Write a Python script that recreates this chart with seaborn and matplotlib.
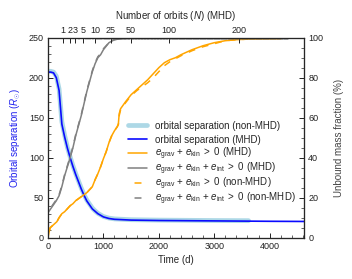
#!/usr/bin/env python3
import numpy as np
import pandas as pd
import seaborn as sns
import matplotlib.pyplot as plt
from matplotlib.ticker import MultipleLocator, FixedLocator

# orbital separation (R_sun), MHD run
t_sep_mhd = [0, 50, 100, 150, 200, 250, 300, 350, 400, 450, 500, 550, 600, 650, 700,
             750, 800, 850, 900, 1000, 1100, 1200, 1500, 2000, 3000, 4000, 4620]
sep_mhd = [207, 207, 206, 200, 184, 142, 126, 112, 100, 89, 79, 70, 61, 53, 46,
           41, 36, 33, 30, 26, 24, 23, 22, 21.5, 21, 20.5, 20.3]

# orbital separation, non-MHD run
t_sep_hd = [0, 50, 100, 150, 200, 250, 300, 350, 400, 450, 500, 550, 600, 650, 700,
            750, 800, 850, 900, 1000, 1100, 1200, 1500, 2000, 3000, 3620]
sep_hd = [208, 208, 207, 202, 186, 145, 128, 113, 101, 90, 80, 71, 62, 54, 47,
          42, 37, 33.5, 30.5, 26.5, 24.5, 23.5, 22.5, 22, 21.5, 21.3]

# unbound mass fraction (%), e_grav + e_kin > 0
t_kin_mhd = [0, 20, 40, 80, 120, 160, 200, 250, 300, 350, 400, 450, 500, 550, 600, 650, 700,
             750, 800, 850, 900, 950, 1000, 1050, 1100, 1150, 1200, 1250, 1270, 1285, 1310,
             1400, 1500, 1600, 1700, 1800, 1900, 2000, 2100, 2200, 2300, 2400, 2600, 2800,
             3000, 3200, 3400, 3600, 4200]
kin_mhd = [0, 3, 5, 6, 7, 8, 10, 12, 13, 14.5, 16, 17, 18.5, 19.5, 20.5, 21.5, 22.5,
           24, 25.5, 29, 32, 35.5, 39.5, 43, 47.5, 51, 53.5, 55.5, 57, 62, 64.5,
           68, 71.5, 74, 76.5, 79, 82, 85, 87.5, 89, 90, 91.5, 94, 96,
           97.5, 98.5, 99, 99.3, 99.5]

# unbound mass fraction (%), e_grav + e_kin > 0, non-MHD
t_kin_hd = [0, 20, 40, 80, 120, 160, 200, 250, 300, 350, 400, 450, 500, 550, 600, 650, 700,
            750, 800, 850, 900, 950, 1000, 1050, 1100, 1150, 1200, 1250, 1270, 1285, 1310,
            1400, 1500, 1600, 1700, 1800, 1900, 2000, 2100, 2200, 2300, 2400, 2600, 2800,
            3000, 3200, 3400, 3620]
kin_hd = [0, 3, 5, 6, 7, 8, 10, 12, 13, 14.5, 16, 17, 18.5, 19.5, 20.5, 21.5, 22.5,
          24, 25.5, 29, 32, 35.5, 39.5, 43, 47.5, 51, 53.5, 55.5, 56.5, 61, 64,
          67.5, 71, 73.5, 75.5, 77.5, 80, 83, 86, 88, 89.5, 91, 93.5, 95.5,
          97, 98.5, 99, 99.3]

# unbound mass fraction (%), e_grav + e_kin + e_int > 0
t_int_mhd = [0, 50, 100, 150, 200, 250, 300, 350, 400, 450, 500, 550, 600, 650, 700,
             750, 800, 850, 900, 950, 1000, 1100, 1200, 1300, 1500, 2000, 4620]
int_mhd = [12.5, 14.5, 16.5, 18.5, 21, 25.5, 31, 35.5, 40, 45, 51, 56, 61, 67, 73,
           78, 83, 87, 90, 91.5, 94, 97.5, 99, 99.5, 99.8, 100, 100]

t_int_hd = [0, 50, 100, 150, 200, 250, 300, 350, 400, 450, 500, 550, 600, 650, 700,
            750, 800, 850, 900, 950, 1000, 1100, 1200, 1300, 1500, 2000, 3620]
int_hd = [13, 15, 17, 19, 21.5, 26, 31.5, 36, 40.5, 45.5, 51.5, 56.5, 61.5, 67.5, 73.5,
          78.5, 83.5, 87.5, 90.5, 92, 94.5, 97.5, 99, 99.5, 99.8, 100, 100]

# top axis: number of orbits (MHD) and the times they are reached
orbit_labels = [1, 2, 3, 5, 10, 25, 50, 100, 200]
orbit_times = [265, 403, 487, 637, 848, 1137, 1498, 2184, 3448]

sns.set_theme(style='ticks')
plt.rcParams['font.family'] = ['Liberation Sans', 'DejaVu Sans']
plt.rcParams['mathtext.fontset'] = 'custom'
plt.rcParams['mathtext.rm'] = 'Liberation Sans'
plt.rcParams['mathtext.it'] = 'Liberation Sans:italic'
plt.rcParams['lines.scale_dashes'] = False

fig = plt.figure(figsize=(3.52, 2.79), dpi=100)
ax = fig.add_axes([48 / 352, 1 - 237.7 / 279, 256 / 352, 200 / 279])
ax2 = ax.twinx()
ax3 = ax.twiny()

sns.lineplot(x=t_sep_hd, y=sep_hd, ax=ax, color='lightblue', lw=3.4,
             label='orbital separation (non-MHD)', legend=False)
sns.lineplot(x=t_sep_mhd, y=sep_mhd, ax=ax, color='#0a0aff', lw=1.2,
             label='orbital separation (MHD)', legend=False)

dash = (5.3, (5, 5))
sns.lineplot(x=t_kin_mhd, y=kin_mhd, ax=ax2, color='orange', lw=1.1,
             label=r'$e_{\rm grav}$ + $e_{\rm kin}$ $>$ 0 (MHD)', legend=False)
sns.lineplot(x=t_int_mhd, y=int_mhd, ax=ax2, color='gray', lw=1.1,
             label=r'$e_{\rm grav}$ + $e_{\rm kin}$ + $e_{\rm int}$ $>$ 0 (MHD)', legend=False)
sns.lineplot(x=t_kin_hd, y=kin_hd, ax=ax2, color='orange', lw=1.1,
             label=r'$e_{\rm grav}$ + $e_{\rm kin}$ $>$ 0 (non-MHD)', legend=False)
sns.lineplot(x=t_int_hd, y=int_hd, ax=ax2, color='gray', lw=1.1,
             label=r'$e_{\rm grav}$ + $e_{\rm kin}$ + $e_{\rm int}$ $>$ 0 (non-MHD)', legend=False)
ax2.lines[2].set_linestyle(dash)
ax2.lines[3].set_linestyle(dash)

ax.set_xlim(0, 4620)
ax.set_ylim(0, 250)
ax2.set_ylim(0, 100)
ax.xaxis.set_major_locator(MultipleLocator(1000))
ax.xaxis.set_minor_locator(MultipleLocator(200))
ax.yaxis.set_major_locator(MultipleLocator(50))
ax.yaxis.set_minor_locator(MultipleLocator(10))
ax2.yaxis.set_major_locator(MultipleLocator(20))
ax2.yaxis.set_minor_locator(MultipleLocator(5))

# top axis ticks, one minor tick per orbit
n_all = np.arange(1, 271)
n_ref = [0] + orbit_labels
t_ref = [0] + orbit_times
slope = (orbit_times[-1] - orbit_times[-2]) / (orbit_labels[-1] - orbit_labels[-2])
t_all = np.where(n_all <= orbit_labels[-1], np.interp(n_all, n_ref, t_ref),
                 orbit_times[-1] + (n_all - orbit_labels[-1]) * slope)
ax3.set_xlim(ax.get_xlim())
ax3.xaxis.set_major_locator(FixedLocator(orbit_times))
ax3.set_xticklabels([str(n) for n in orbit_labels])
ax3.xaxis.set_minor_locator(FixedLocator(t_all))

for a in (ax, ax2, ax3):
    a.tick_params(which='major', direction='in', length=3.5, width=0.7, labelsize=6.5,
                  colors='#222222', pad=3)
    a.tick_params(which='minor', direction='in', length=2, width=0.5)
    for s in a.spines.values():
        s.set_linewidth(0.8)
ax3.tick_params(which='major', pad=2)
ax3.tick_params(which='minor', length=1.6, width=0.35, color='#666666')

ax.set_xlabel('Time (d)', fontsize=7, labelpad=3)
ax.set_ylabel(r'Orbital separation ($R_{\odot}$)', fontsize=7, color='#2222ee', labelpad=4)
ax2.set_ylabel('Unbound mass fraction (%)', fontsize=7, color='#444444', labelpad=8)
ax3.set_xlabel(r'Number of orbits ($N$) (MHD)', fontsize=7, labelpad=5)

# two stacked legends so the rows keep an even spacing
h1, l1 = ax.get_legend_handles_labels()
h2, l2 = ax2.get_legend_handles_labels()
leg_kw = dict(loc='upper left', frameon=False, fontsize=7, borderpad=0, borderaxespad=0,
              handlelength=2.0, handletextpad=0.8)
leg_a = ax2.legend(h1, l1, bbox_to_anchor=(0.3125, 0.585), labelspacing=0.4, **leg_kw)
ax2.add_artist(leg_a)
ax2.legend(h2, l2, bbox_to_anchor=(0.3125, 0.458), labelspacing=-0.15, **leg_kw)

fig.savefig('out.png', dpi=100)
